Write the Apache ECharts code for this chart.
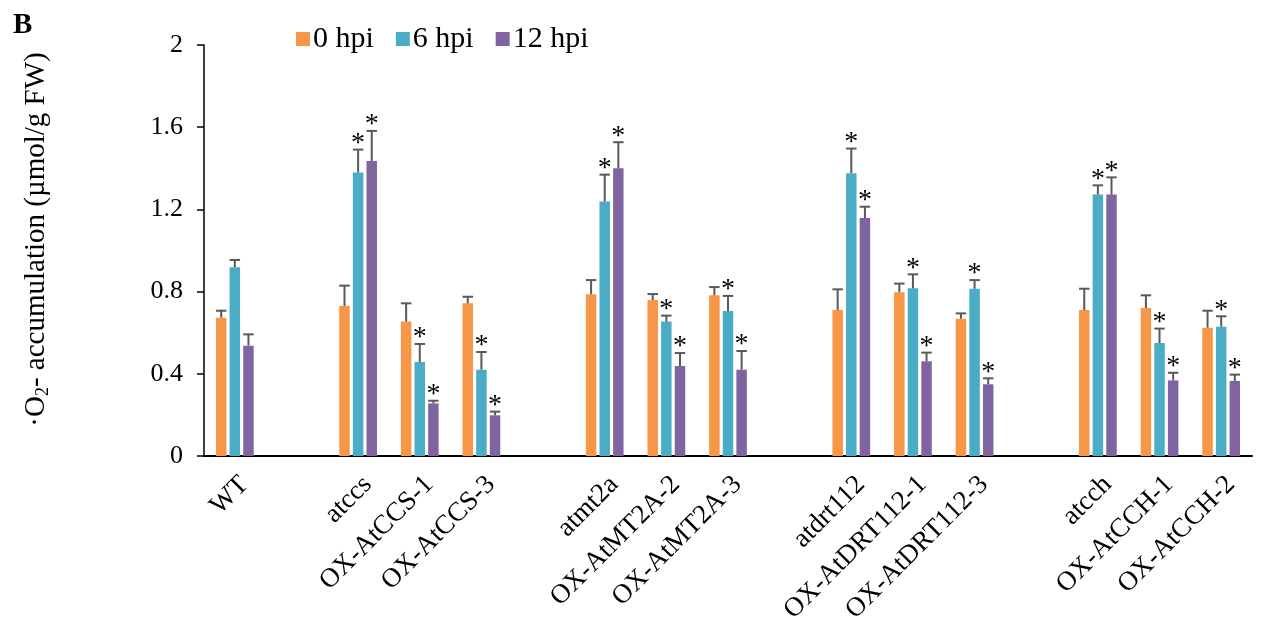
<!DOCTYPE html>
<html><head><meta charset="utf-8">
<script src="https://cdn.jsdelivr.net/npm/echarts@6/dist/echarts.min.js"></script>
<style>html,body{margin:0;padding:0;background:#fff}#c{width:1263px;height:627px}</style>
</head><body><div id="c"></div>
<script>
const categories = ['WT','','atccs','OX-AtCCS-1','OX-AtCCS-3','','atmt2a','OX-AtMT2A-2','OX-AtMT2A-3','','atdrt112','OX-AtDRT112-1','OX-AtDRT112-3','','atcch','OX-AtCCH-1','OX-AtCCH-2'];
const seriesNames = ['0 hpi','6 hpi','12 hpi'];
const hpi0  = [0.673,null,0.730,0.654,0.743,null,0.787,0.759,0.782,null,0.710,0.797,0.668,null,0.710,0.720,0.624];
const hpi6  = [0.918,null,1.380,0.457,0.420,null,1.239,0.654,0.706,null,1.376,0.816,0.814,null,1.272,0.550,0.629];
const hpi12 = [0.537,null,1.435,0.256,0.198,null,1.400,0.438,0.420,null,1.158,0.461,0.349,null,1.272,0.368,0.365];
const err0  = [0.034,null,0.099,0.089,0.032,null,0.069,0.029,0.040,null,0.101,0.042,0.026,null,0.104,0.062,0.083];
const err6  = [0.036,null,0.111,0.088,0.086,null,0.130,0.029,0.073,null,0.120,0.068,0.042,null,0.045,0.070,0.051];
const err12 = [0.055,null,0.147,0.013,0.018,null,0.127,0.063,0.091,null,0.055,0.042,0.029,null,0.084,0.037,0.031];
const sig0  = [0,0,0,0,0,0,0,0,0,0,0,0,0,0,0,0,0];
const sig6  = [0,0,1,1,1,0,1,1,1,0,1,1,1,0,1,1,1];
const sig12 = [0,0,1,1,1,0,1,1,1,0,1,1,1,0,1,1,1];
const yMin = 0, yMax = 2, yInterval = 0.4;

const colors = ['#F79646','#4BACC6','#8064A2'];
const FONT = 'Liberation Serif';
const BAR_FRAC = 0.17, BAR_GAP = 0.3;
const values = [hpi0, hpi6, hpi12];
const errs = [err0, err6, err12];
const sigs = [sig0, sig6, sig12];

const barSeries = values.map((v, k) => ({
  name: seriesNames[k], type: 'bar', data: v,
  barWidth: (BAR_FRAC*100) + '%', barGap: (BAR_GAP*100) + '%',
  itemStyle: {color: colors[k]}, z: 2
}));

const errSeries = values.map((v, k) => ({
  type: 'custom', z: 5, silent: true,
  data: v.map((val, i) => val == null ? null : [i, val, errs[k][i], sigs[k][i]]).filter(d => d),
  encode: {x: 0, y: 1},
  renderItem: function (params, api) {
    const i = api.value(0), val = api.value(1), e = api.value(2), s = api.value(3);
    const base = api.coord([i, val]);
    const top = api.coord([i, val + e]);
    const cw = api.size([1, 0])[0];
    const bw = cw * BAR_FRAC;
    const x = base[0] + (k - 1) * bw * (1 + BAR_GAP);
    const children = [
      {type: 'line', shape: {x1: x, y1: base[1], x2: x, y2: top[1]}, style: {stroke: '#595959', lineWidth: 2}},
      {type: 'line', shape: {x1: x - bw/2, y1: top[1], x2: x + bw/2, y2: top[1]}, style: {stroke: '#595959', lineWidth: 2}}
    ];
    if (s) {
      children.push({type: 'text', style: {text: '*', x: x, y: top[1] - 6, align: 'center', verticalAlign: 'middle',
        font: '28px "Liberation Serif"', fill: '#000'}});
    }
    return {type: 'group', children: children};
  }
}));

const chart = echarts.init(document.getElementById('c'));
chart.setOption({
  animation: false,
  title: {text: 'B', left: 8, top: 6, textStyle: {fontFamily: FONT, fontWeight: 'bold', fontSize: 29, color: '#000'}},
  legend: {
    data: seriesNames, left: 291, top: 19, icon: 'rect', itemWidth: 14, itemHeight: 14, itemGap: 22,
    textStyle: {fontFamily: FONT, fontSize: 30, color: '#000', padding: [0, 0, 0, -2]}
  },
  grid: {left: 204, right: 11, top: 45, bottom: 171, containLabel: false, outerBoundsMode: 'none'},
  xAxis: {
    type: 'category', data: categories,
    axisLine: {lineStyle: {color: '#000', width: 2}},
    axisTick: {show: false},
    axisLabel: {interval: 0, rotate: 45, margin: 15, verticalAlign: 'top', fontFamily: FONT, fontSize: 27, color: '#000'}
  },
  yAxis: {
    type: 'value', min: yMin, max: yMax, interval: yInterval,
    name: '{n|·O}{s|2}{n|- accumulation (µmol/g FW)}',
    nameLocation: 'middle', nameRotate: 90, nameGap: 152,
    nameTextStyle: {
      padding: [0, 0, 0, 22],
      rich: {
        n: {fontFamily: FONT, fontSize: 29, color: '#000', lineHeight: 32, verticalAlign: 'middle'},
        s: {fontFamily: FONT, fontSize: 18, color: '#000', lineHeight: 32, verticalAlign: 'bottom'}
      }
    },
    axisLine: {show: true, lineStyle: {color: '#000', width: 1.5}},
    axisTick: {show: true, length: 7, lineStyle: {color: '#000', width: 1.5}},
    splitLine: {show: false},
    axisLabel: {margin: 21, fontFamily: FONT, fontSize: 26, color: '#000'}
  },
  series: barSeries.concat(errSeries)
});
</script></body></html>
